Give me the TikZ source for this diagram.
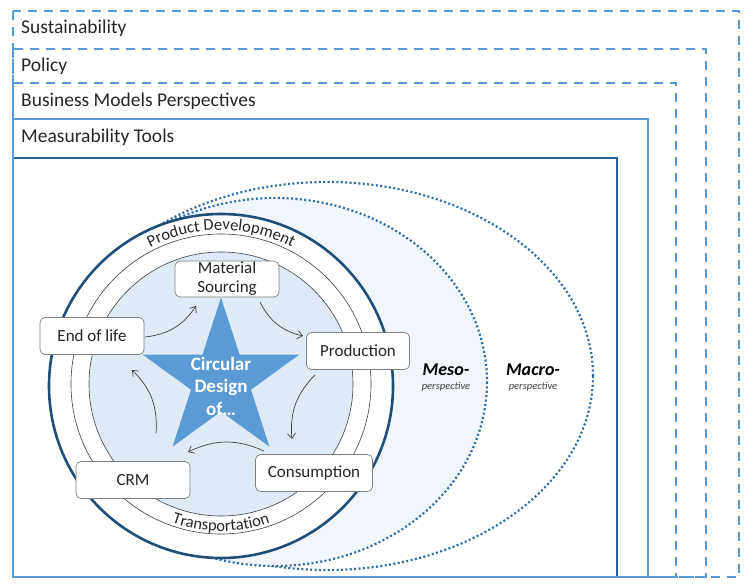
\documentclass[tikz,border=0pt]{standalone}
\usepackage{fontspec}
\setmainfont{Carlito}
\usetikzlibrary{arrows.meta,decorations.text,calc}
\definecolor{dashblue}{HTML}{5B9BD5}
\definecolor{darkframe}{HTML}{2A6096}
\definecolor{navy}{HTML}{1F4E79}
\definecolor{dotblue}{HTML}{2E6DA4}
\definecolor{mesofill}{HTML}{F1F6FC}
\definecolor{discfill}{HTML}{DEEAF6}
\definecolor{starblue}{HTML}{5B9BD5}
\definecolor{boxgray}{HTML}{7F7F7F}
\definecolor{txt}{HTML}{262626}
\definecolor{perspgray}{HTML}{404040}
\begin{document}
\begin{tikzpicture}[x=1pt,y=-1pt,
  framedash/.style={draw=dashblue,line width=1.8pt,dash pattern=on 9pt off 7pt},
  framesolid/.style={draw=dashblue,line width=1.8pt},
  framedark/.style={draw=darkframe,line width=1.8pt},
  titletext/.style={anchor=base west,inner sep=0pt,font=\fontsize{19.5}{21}\selectfont,text=txt},
  dotted ell/.style={draw=dotblue,line width=2.2pt,dash pattern=on 2pt off 2.4pt},
  stage/.style={draw=boxgray,line width=0.7pt,fill=white,rounded corners=5pt,
    align=center,inner sep=0pt,font=\fontsize{17}{19}\selectfont,text=txt},
  cyc/.style={draw=perspgray,line width=0.7pt,-{Straight Barb[length=5pt,width=8pt,line width=0.7pt]},bend right=25},
  persp/.style={font=\fontsize{18}{20}\selectfont\bfseries\itshape,text=black,inner sep=0pt},
  persp small/.style={font=\fontsize{10.5}{12}\selectfont\itshape,text=perspgray,inner sep=0pt}
]
\useasboundingbox (0,0) rectangle (754,585);

% frames
\draw[framesolid] (13,119) rectangle (648,577);
\draw[framedark] (13,158) rectangle (617,577);
\draw[framedash] (13,83) rectangle (676,577);
\draw[framedash] (13,49) rectangle (706,577);
\draw[framedash] (13,11) rectangle (739,577);

\node[titletext] (tsus) at (21,33.5) {Sustainability};
\node[titletext] (tpol) at (21,72) {Policy};
\node[titletext] (tbmp) at (21,107) {Business Models Perspectives};
\node[titletext] (tmeas) at (21,143) {Measurability Tools};

% perspectives
\draw[dotted ell] (327,376) ellipse[x radius=266,y radius=194];
\fill[mesofill] (275,382) ellipse[x radius=212,y radius=184];
\draw[dotted ell] (275,382) ellipse[x radius=212,y radius=184];

\node[persp] (meso) at (446,370) {Meso-};
\node[persp small] (mesop) at (446,387) {perspective};
\node[persp] (macro) at (533,370) {Macro-};
\node[persp small] (macrop) at (533,387) {perspective};

% circles
\coordinate (C) at (221,386);
\coordinate (Ci) at (221,384);
\fill[white] (C) circle[radius=172];
\draw[navy,line width=2.6pt] (C) circle[radius=172];
\draw[perspgray,line width=0.6pt] (Ci) circle[radius=150];
\fill[discfill] (Ci) circle[radius=132];
\draw[perspgray,line width=0.6pt] (Ci) circle[radius=132];

\path[decorate,decoration={text along path,text align=center,
  text={|\fontsize{16.5}{16.5}\selectfont\color{txt}|Product Development}}]
  ($(Ci)+(-150:154)$) arc[start angle=-150,end angle=-30,radius=154];
\path[decorate,decoration={text along path,text align=center,
  text={|\fontsize{16.5}{16.5}\selectfont\color{txt}|Transportation}}]
  ($(Ci)+(150:147)$) arc[start angle=150,end angle=30,radius=147];

% star
\coordinate (S) at (221,380);
\fill[starblue] ($(S)+(-90:82.4)$) -- ($(S)+(-54:31.5)$) -- ($(S)+(-18:82.4)$)
  -- ($(S)+(18:31.5)$) -- ($(S)+(54:82.4)$) -- ($(S)+(90:31.5)$)
  -- ($(S)+(126:82.4)$) -- ($(S)+(162:31.5)$) -- ($(S)+(198:82.4)$)
  -- ($(S)+(234:31.5)$) -- cycle;
\node[align=center,text=white,font=\fontsize{19}{22.5}\selectfont\bfseries,inner sep=0pt]
  (star) at (221,386) {Circular\\Design\\of\ldots};

% stages
\node[stage,minimum width=104pt,minimum height=36pt] (ms) at (227,279) {Material\\Sourcing};
\node[stage,minimum width=103pt,minimum height=37pt] (prod) at (358,351) {Production};
\node[stage,minimum width=117pt,minimum height=37pt] (cons) at (314,473) {Consumption};
\node[stage,minimum width=114pt,minimum height=37pt] (crm) at (133,480) {CRM};
\node[stage,minimum width=104pt,minimum height=37pt] (eol) at (92,336) {End of life};

% cycle arrows
\coordinate (a1s) at (260,302); \coordinate (a1e) at (303,336);
\coordinate (a2s) at (315,375); \coordinate (a2e) at (292,439);
\coordinate (a3s) at (264,451); \coordinate (a3e) at (188,452);
\coordinate (a4s) at (156,433); \coordinate (a4e) at (132,370);
\coordinate (a5s) at (145,337); \coordinate (a5e) at (196,306);
\draw[cyc] (a1s) to (a1e);
\draw[cyc] (a2s) to (a2e);
\draw[cyc] (a3s) to (a3e);
\draw[cyc] (a4s) to (a4e);
\draw[cyc] (a5s) to (a5e);
\end{tikzpicture}
\end{document}
